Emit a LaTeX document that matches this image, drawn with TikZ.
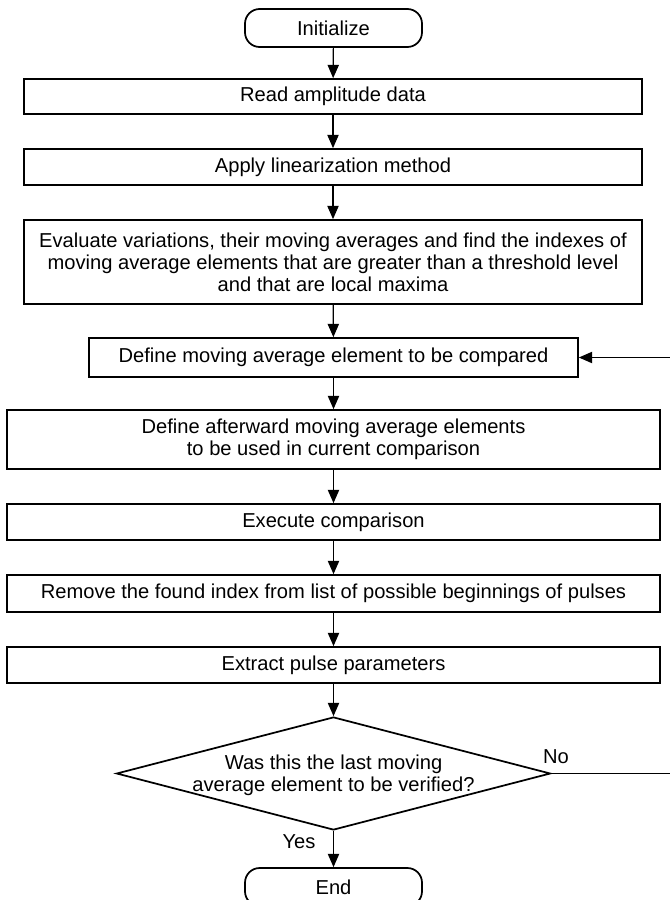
\documentclass[tikz,border=0pt]{standalone}
\usepackage{fontspec}
\setmainfont{Liberation Sans}
\usetikzlibrary{arrows.meta,shapes.geometric}

\begin{document}
\begin{tikzpicture}[x=0.75pt,y=-0.75pt,
  font=\fontsize{15.1pt}{16.5pt}\selectfont,
  every node/.style={inner sep=0pt},
  procbox/.style={draw=black,line width=1.3pt,fill=white,align=center},
  terminal/.style={procbox,rounded corners=11pt,minimum width=132.75pt,minimum height=28.5pt},
  decision/.style={draw=black,line width=1.3pt,fill=white,diamond,
    minimum width=325.5pt,minimum height=84.75pt},
  flow/.style={draw=black,line width=0.9pt,-{Triangle[length=10pt,width=8.5pt]}},
  tag/.style={font=\fontsize{15.1pt}{16.5pt}\selectfont}
]
\useasboundingbox (0,0) rectangle (669,900);

% process steps, top to bottom
\node[terminal] (init) at (333.5,28) {Initialize};
\node[procbox,minimum width=463.5pt,minimum height=26.25pt] (read) at (333,96.5) {Read amplitude data};
\node[procbox,minimum width=463.5pt,minimum height=27pt] (apply) at (333,167) {Apply linearization method};
\node[procbox,minimum width=463.5pt,minimum height=63pt] (eval) at (333,262)
  {Evaluate variations, their moving averages and find the indexes of\\
   moving average elements that are greater than a threshold level\\
   and that are local maxima};
\node[procbox,minimum width=366.75pt,minimum height=29.25pt] (defc) at (333.5,357.5)
  {Define moving average element to be compared};
\node[procbox,minimum width=489.75pt,minimum height=44.25pt] (defa) at (333.5,439.5)
  {Define afterward moving average elements\\to be used in current comparison};
\node[procbox,minimum width=489.75pt,minimum height=27pt] (exec) at (333.5,522) {Execute comparison};
\node[procbox,minimum width=489.75pt,minimum height=27.75pt] (remv) at (333.5,593.5)
  {Remove the found index from list of possible beginnings of pulses};
\node[procbox,minimum width=489.75pt,minimum height=27pt] (extr) at (333.5,665) {Extract pulse parameters};

% decision
\node[decision] (dec) at (333.5,773.5) {};
\node[align=center] (dectext) at (333.5,775)
  {Was this the last moving\\average element to be verified?};

\node[terminal] (end) at (333.5,887) {End};

% branch labels
\node[tag] (no) at (556,757) {No};
\node[tag] (yes) at (299,842) {Yes};

% connectors
\draw[flow] (init) -- (read);
\draw[flow] (read) -- (apply);
\draw[flow] (apply) -- (eval);
\draw[flow] (eval) -- (defc);
\draw[flow] (defc) -- (defa);
\draw[flow] (defa) -- (exec);
\draw[flow] (exec) -- (remv);
\draw[flow] (remv) -- (extr);
\draw[flow] (extr) -- (dec);
\draw[flow] (dec) -- (end);

% loop back for the next element
\coordinate (loopx) at (676,0);
\draw[flow] (dec.east) -- (dec.east -| loopx) -- (defc.east -| loopx) -- (defc.east);
\end{tikzpicture}
\end{document}
